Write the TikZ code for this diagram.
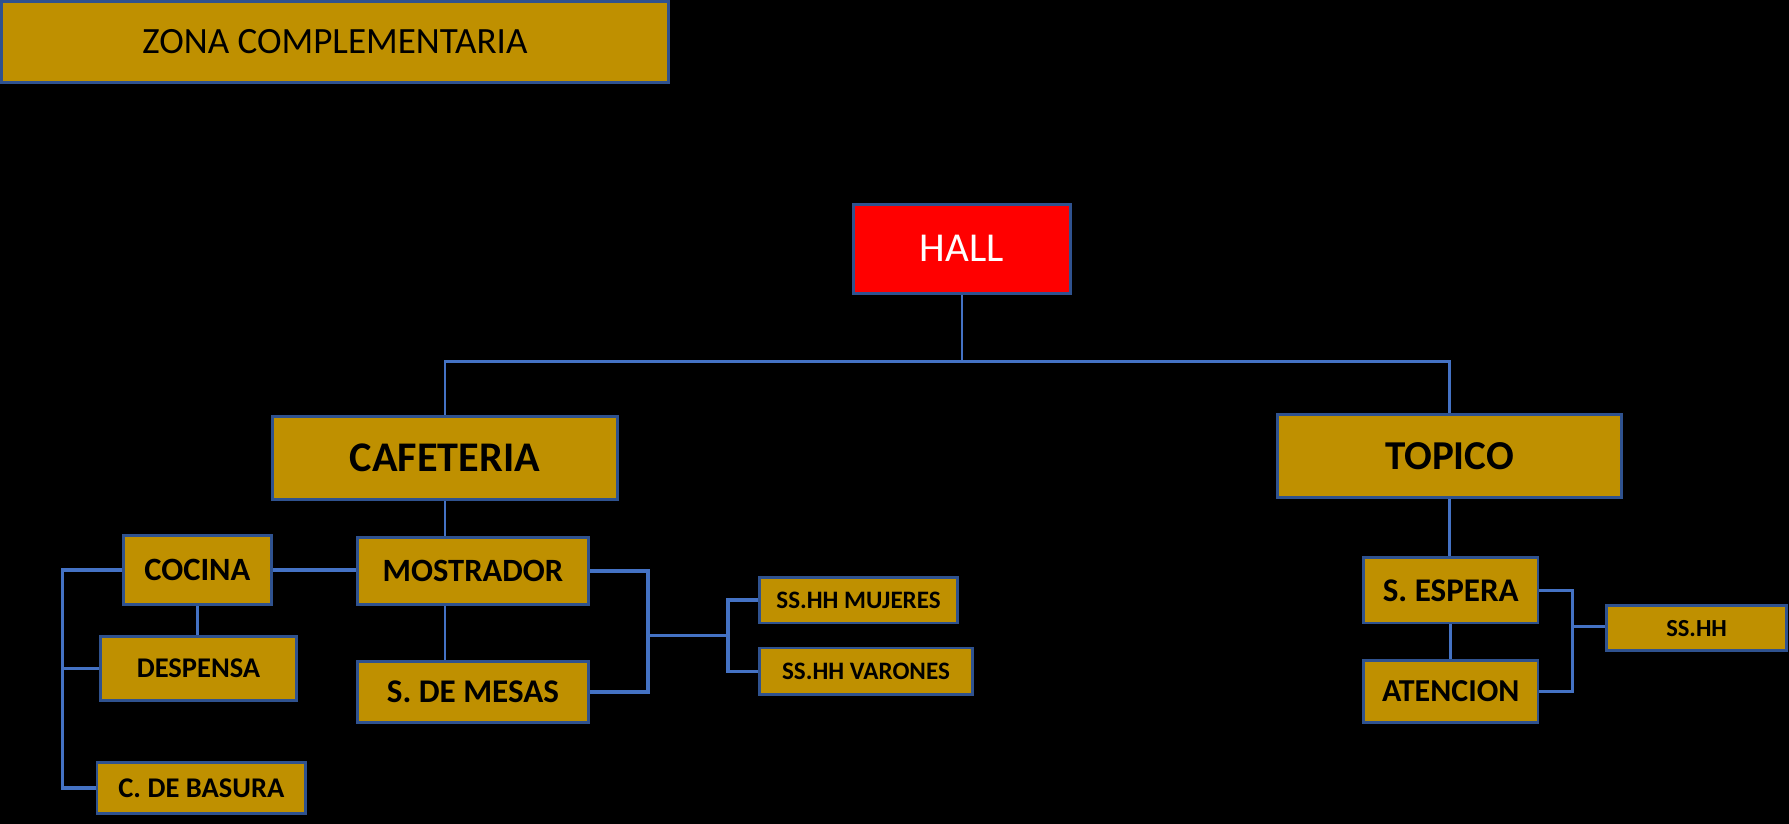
\documentclass[tikz,border=0pt]{standalone}
\usepackage{fontspec}
\setmainfont{Carlito}

\definecolor{gold}{HTML}{BF9000}
\definecolor{frame}{HTML}{2F528F}
\definecolor{wire}{HTML}{4472C4}

\tikzset{
    room/.style n args={3}{draw=frame, line width=2.5pt, fill=gold, inner sep=0pt,
        minimum width=#1pt, minimum height=#2pt,
        font=\fontsize{#3}{#3}\selectfont\bfseries},
    link/.style={draw=wire, line width=3pt},
    thinlink/.style={draw=wire, line width=2.2pt}
}

\begin{document}
\begin{tikzpicture}[x=1pt, y=-1pt]
    \fill[black] (0,0) rectangle (1568,722);
    \useasboundingbox (0,0) rectangle (1568,722);

    % title and root
    \node[room={585}{71}{31}, font=\fontsize{32.5}{32.5}\selectfont] (zona) at (293.5,36.5) {ZONA COMPLEMENTARIA};
    \node[room={190}{78}{36}, fill=red, text=white, font=\fontsize{36}{36}\selectfont] (hall) at (843,218) {HALL};

    % main zones
    \node[room={302}{73}{37}] (cafe) at (390,401.5) {CAFETERIA};
    \node[room={301}{73}{36}] (topico) at (1270.5,399.5) {TOPICO};

    % cafeteria
    \node[room={203}{59}{28.5}] (mostrador) at (414.5,500.5) {MOSTRADOR};
    \node[room={130}{61}{28.5}] (cocina) at (173,499.5) {COCINA};
    \node[room={172}{56}{25}] (despensa) at (174,586) {DESPENSA};
    \node[room={183}{45}{25}] (basura) at (176.5,690.5) {C. DE BASURA};
    \node[room={203}{53}{29}] (mesas) at (414.5,606.5) {S. DE MESAS};
    \node[room={173}{40}{22}] (mujeres) at (752.5,526) {SS.HH MUJERES};
    \node[room={186}{41}{22}] (varones) at (759,588.5) {SS.HH VARONES};

    % topico
    \node[room={153}{57}{29}] (espera) at (1271.5,517.5) {S. ESPERA};
    \node[room={153}{54}{28}] (atencion) at (1271.5,606) {ATENCION};
    \node[room={158}{39}{21.5}] (sshh) at (1487,550.5) {SS.HH};

    % junctions
    \coordinate (hj) at (843,317);
    \coordinate (lb) at (55,600);
    \coordinate (rb) at (568,557);
    \coordinate (sb) at (638,557);
    \coordinate (tb) at (1378,549);

    % connectors
    \draw[thinlink] (hall.south) -- (hj);
    \draw[thinlink] (cafe.north) |- (hj) -| (topico.north);
    \draw[thinlink] (cafe.south) -- (cafe.south |- mostrador.north);
    \draw[thinlink] (topico.south) -- (topico.south |- espera.north);
    \draw[link] (cocina.east) -- (cocina.east -| mostrador.west);
    \draw[link] (cocina.south) -- (cocina.south |- despensa.north);
    \draw[link] (cocina.west) -| (lb) |- (basura.west);
    \draw[link] (despensa.west) -- (despensa.west -| lb);
    \draw[thinlink] (cafe.south |- mostrador.south) -- (cafe.south |- mesas.north);
    \draw[link] (mostrador.east) -| (rb) |- (mesas.east);
    \draw[link] (rb) -- (sb);
    \draw[link] (mujeres.west) -| (sb) |- (varones.west);
    \draw[thinlink] (espera.south) -- (atencion.north);
    \draw[link] (espera.east) -| (tb) |- (atencion.east);
    \draw[link] (tb) -- (tb -| sshh.west);
\end{tikzpicture}
\end{document}
